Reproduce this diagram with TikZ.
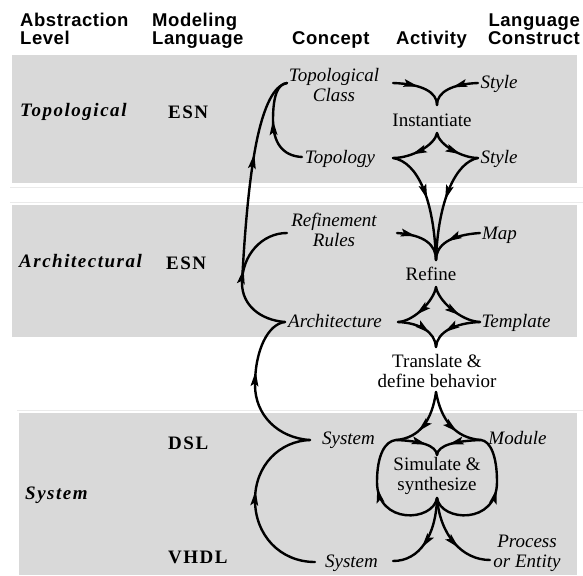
\documentclass[tikz,border=0pt]{standalone}
\usepackage{fontspec}
\setmainfont{Liberation Serif}
\newfontfamily\hdrfont[LetterSpace=3]{Liberation Sans}
\newfontfamily\lvlfont[LetterSpace=8]{Liberation Serif}
\usetikzlibrary{decorations.markings,calc}
\definecolor{band}{RGB}{217,217,217}
\definecolor{faint}{RGB}{234,234,234}
\begin{document}
\begin{tikzpicture}[x=1pt,y=-1pt,
  hdr/.style={font={\hdrfont\bfseries\fontsize{18.5}{20}\selectfont}, inner sep=0, anchor=base west},
  lvl/.style={font={\lvlfont\bfseries\itshape\fontsize{19}{20}\selectfont}, inner sep=0, anchor=base west},
  lang/.style={font={\lvlfont\bfseries\fontsize{19}{20}\selectfont}, inner sep=0, anchor=base west},
  txt/.style={font={\fontsize{19}{20}\selectfont}, inner sep=0, text height=13pt, text depth=4pt},
  itxt/.style={font={\itshape\fontsize{19}{20}\selectfont}, inner sep=0, text height=13pt, text depth=4pt},
  mtxt/.style={font={\fontsize{19}{20}\selectfont}, inner sep=0, align=center},
  mitxt/.style={font={\itshape\fontsize{19}{20}\selectfont}, inner sep=0, align=center},
  conn/.style={line width=2.4pt, line cap=round},
  ma/.style={postaction={decorate}, decoration={markings, mark=at position #1 with {\fill (3pt,0pt) -- (-12pt,4pt) -- (-9pt,0pt) -- (-12pt,-4pt) -- cycle;}}}
]
\useasboundingbox (0,0) rectangle (583,575);
% bands
\fill[band] (12,55) rectangle (577,183);
\fill[band] (12,205) rectangle (577,337);
\fill[band] (19,413) rectangle (577,575);
\draw[faint, line width=1pt] (10,187) -- (583,187);
\draw[faint, line width=1pt] (10,202) -- (583,202);
\draw[faint, line width=1pt] (17,410) -- (583,410);

% headers
\node[hdr] (h1a) at (20,27) {Abstraction};
\node[hdr] (h1b) at (20,45) {Level};
\node[hdr] (h2a) at (152,27) {Modeling};
\node[hdr] (h2b) at (152,45) {Language};
\node[hdr] (h3) at (292,45) {Concept};
\node[hdr] (h4) at (396,45) {Activity};
\node[hdr, anchor=base east] (h5a) at (580,27) {Language};
\node[hdr, anchor=base east] (h5b) at (580,45) {Construct};

% level labels
\node[lvl] (lt) at (20,117) {Topological};
\node[lang] (esn1) at (168,118) {ESN};
\node[lvl] (la) at (19,267) {Architectural};
\node[lang] (esn2) at (166,269) {ESN};
\node[lvl] (ls) at (25,499) {System};
\node[lang] (dsl) at (168,449) {DSL};
\node[lang] (vhdl) at (168,563) {VHDL};

% concept / activity / construct nodes
\node[mitxt] (tc) at (334,85.5) {Topological\\Class};
\node[itxt] (topo) at (340,158.5) {Topology};
\node[mitxt] (rr) at (334,229.5) {Refinement\\Rules};
\node[itxt] (arch) at (335,322.5) {Architecture};
\node[itxt] (sysd) at (348.5,439.5) {System};
\node[itxt] (sysv) at (351.5,562.5) {System};
\node[txt] (inst) at (432,122.5) {Instantiate};
\node[txt] (refine) at (431,275.5) {Refine};
\node[mtxt] (trans) at (437,370.5) {Translate \&\\define behavior};
\node[mtxt] (sim) at (437,475.5) {Simulate \&\\synthesize};
\node[itxt] (sty1) at (499,84.5) {Style};
\node[itxt] (sty2) at (499,158.5) {Style};
\node[itxt] (map) at (499.5,234.5) {Map};
\node[itxt] (tmpl) at (516,322.5) {Template};
\node[itxt] (mod) at (517.5,439.5) {Module};
\node[mitxt] (proc) at (527,553.75) {Process\\or Entity};
\coordinate (jn) at (242,283);

% topological level
\draw[conn, ma=0.42] ($(tc)+(59,-2.5)$) .. controls (422,84) and (437,92) .. ($(inst)+(5,-17.5)$);
\draw[conn, ma=0.45] ($(sty1)+(-21,-1.5)$) .. controls (452,84) and (437,92) .. ($(inst)+(5,-17.5)$);
\draw[conn, ma=0.58] ($(inst)+(5,10.5)$) .. controls (435,145) and (412,158) .. ($(topo)+(53,-0.5)$);
\draw[conn, ma=0.58] ($(inst)+(5,10.5)$) .. controls (439,145) and (462,158) .. ($(sty2)+(-21,-0.5)$);
\draw[conn, ma=0.45] ($(topo)+(53,-0.5)$) .. controls (418,162) and (434,200) .. ($(refine)+(5,-15.5)$);
\draw[conn, ma=0.45] ($(sty2)+(-21,-0.5)$) .. controls (456,162) and (438,200) .. ($(refine)+(5,-15.5)$);
% architectural level
\draw[conn, ma=0.3] ($(rr)+(63,3.5)$) .. controls (425,235) and (436,245) .. ($(refine)+(5,-15.5)$);
\draw[conn, ma=0.55] ($(map)+(-19.5,-1.5)$) .. controls (450,235) and (436,245) .. ($(refine)+(5,-15.5)$);
\draw[conn, ma=0.58] ($(refine)+(5,11.5)$) .. controls (434,300) and (415,321) .. ($(arch)+(63,-0.5)$);
\draw[conn, ma=0.58] ($(refine)+(5,11.5)$) .. controls (438,300) and (460,321) .. ($(tmpl)+(-36,-0.5)$);
\draw[conn, ma=0.62] ($(arch)+(63,-0.5)$) .. controls (420,323) and (435,332) .. ($(trans)+(-1,-23.5)$);
\draw[conn, ma=0.62] ($(tmpl)+(-36,-0.5)$) .. controls (455,323) and (437,332) .. ($(trans)+(-1,-23.5)$);
% system level
\draw[conn, ma=0.6] ($(trans)+(-1,21.5)$) .. controls (432,420) and (420,438) .. ($(sysd)+(47.5,0.5)$);
\draw[conn, ma=0.6] ($(trans)+(-1,21.5)$) .. controls (441,420) and (455,438) .. ($(mod)+(-36.5,0.5)$);
\draw[conn, ma=0.6] ($(sysd)+(47.5,0.5)$) .. controls (420,441) and (436,445) .. ($(sim)+(0,-20.5)$);
\draw[conn, ma=0.6] ($(mod)+(-36.5,0.5)$) .. controls (455,441) and (438,445) .. ($(sim)+(0,-20.5)$);
\draw[conn, ma=0.57] ($(sim)+(0,22.5)$) .. controls (433,522) and (377,525) .. (377,482) .. controls (377,455) and (385,441) .. ($(sysd)+(47.5,0.5)$);
\draw[conn, ma=0.57] ($(sim)+(0,22.5)$) .. controls (441,522) and (497,525) .. (497,482) .. controls (497,455) and (490,441) .. ($(mod)+(-36.5,0.5)$);
\draw[conn, ma=0.58] ($(sim)+(0,22.5)$) .. controls (436,535) and (420,561) .. ($(sysv)+(41.5,-1.5)$);
\draw[conn, ma=0.58] ($(sim)+(0,22.5)$) .. controls (440,535) and (462,560) .. ($(proc)+(-37,6.25)$);
% concept column arcs
\draw[conn, ma=0.52] ($(topo)+(-38,-1.5)$) .. controls (282,156) and (273,142) .. (273,120) .. controls (273,95) and (278,84) .. ($(tc)+(-47,-2.5)$);
\draw[conn, ma=0.6] (jn) .. controls (245,225) and (250,170) .. (258,135) .. controls (266,100) and (276,85) .. ($(tc)+(-47,-2.5)$);
\draw[conn, ma=0.54] ($(arch)+(-50,-0.5)$) .. controls (260,320) and (242,305) .. (jn) .. controls (242,255) and (262,233) .. ($(rr)+(-47,3.5)$);
\draw[conn, ma=0.6] ($(sysd)+(-38.5,0.5)$) .. controls (278,438) and (255,415) .. (255,385) .. controls (255,350) and (268,324) .. ($(arch)+(-50,-0.5)$);
\draw[conn, ma=0.55] ($(sysv)+(-36.5,-0.5)$) .. controls (280,562) and (255,535) .. (255,500) .. controls (255,465) and (280,441) .. ($(sysd)+(-38.5,0.5)$);
\end{tikzpicture}
\end{document}
